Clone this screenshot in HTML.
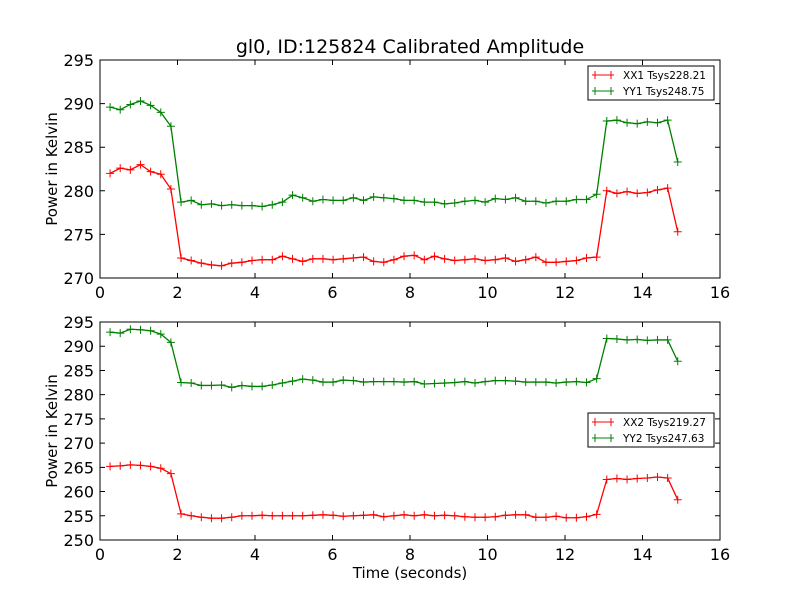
<!DOCTYPE html>
<html><head><meta charset="utf-8"><style>
html,body{margin:0;padding:0;background:#fff;}
svg{display:block;font-family:"DejaVu Sans","Liberation Sans",sans-serif;}
</style></head><body>
<svg id="chart" width="800" height="600" viewBox="0 0 800 600" xmlns="http://www.w3.org/2000/svg">
<rect width="800" height="600" fill="#fff"/>
<text x="410" y="53" font-size="19" text-anchor="middle">gl0, ID:125824 Calibrated Amplitude</text>
</svg>
<script>
const startTime = 0.26;
const timeStep = 0.2616;
const xTicks = [0,2,4,6,8,10,12,14,16];
const topYTicks = [270,275,280,285,290,295];
const botYTicks = [250,255,260,265,270,275,280,285,290,295];
const xx1 = [282.0,282.6,282.4,283.0,282.2,281.9,280.2,
272.3,272.0,271.7,271.5,271.4,271.7,271.8,272.0,272.1,272.1,
272.5,272.2,271.9,272.2,272.2,272.1,272.2,272.3,272.4,271.9,
271.8,272.1,272.5,272.6,272.1,272.5,272.2,272.0,272.1,272.2,
272.0,272.1,272.3,271.9,272.1,272.4,271.8,271.8,271.9,272.0,272.3,272.4,
280.0,279.7,279.9,279.7,279.8,280.1,280.3,275.3];
const yy1 = [289.6,289.3,289.9,290.3,289.8,289.0,287.4,
278.7,278.9,278.4,278.5,278.3,278.4,278.3,278.3,278.2,278.4,
278.7,279.5,279.2,278.8,279.0,278.9,278.9,279.2,278.9,279.3,
279.2,279.1,278.9,278.9,278.7,278.7,278.5,278.6,278.8,278.9,
278.7,279.1,279.0,279.2,278.8,278.8,278.6,278.8,278.8,279.0,279.0,279.6,
288.0,288.1,287.8,287.7,287.9,287.8,288.1,283.3];
const xx2 = [265.2,265.3,265.5,265.4,265.2,264.8,263.7,
255.4,255.0,254.7,254.5,254.5,254.7,255.0,255.0,255.1,255.0,
255.0,255.0,255.0,255.1,255.2,255.1,254.9,255.0,255.1,255.2,
254.8,255.0,255.2,255.0,255.2,255.0,255.1,255.0,254.8,254.7,
254.7,254.8,255.1,255.2,255.2,254.7,254.7,254.9,254.6,254.6,254.8,255.3,
262.5,262.7,262.5,262.7,262.8,263.0,262.8,258.3];
const yy2 = [292.9,292.7,293.5,293.4,293.2,292.5,290.8,
282.5,282.4,281.9,281.9,282.0,281.5,281.9,281.7,281.7,282.0,
282.4,282.8,283.2,283.0,282.6,282.6,283.0,282.9,282.6,282.7,
282.7,282.7,282.6,282.7,282.2,282.3,282.4,282.5,282.7,282.4,
282.7,282.9,282.9,282.8,282.6,282.6,282.6,282.4,282.6,282.7,282.5,283.3,
291.6,291.5,291.3,291.4,291.2,291.3,291.3,286.9];
const labels1 = ["XX1 Tsys228.21","YY1 Tsys248.75"];
const labels2 = ["XX2 Tsys219.27","YY2 Tsys247.63"];

const NS = "http://www.w3.org/2000/svg";
const svg = document.getElementById('chart');
function mk(tag, attrs, parent){
  const e = document.createElementNS(NS, tag);
  for (const k in attrs) e.setAttribute(k, attrs[k]);
  (parent||svg).appendChild(e);
  return e;
}
function panel(name, top, bottom, ymin, ymax, yTicks, series, colors, labels, legendY, showXLabel){
  const L=100, R=720;
  const g = mk('g', {});
  
  
  const xs = v => L + (v - xTicks[0]) / (xTicks[xTicks.length-1] - xTicks[0]) * (R - L);
  const ys = v => bottom - (v - ymin) / (ymax - ymin) * (bottom - top);
  series.forEach((data, si) => {
    const pts = data.map((v,i) => xs(startTime + i*timeStep).toFixed(2) + ',' + ys(v).toFixed(2));
    const pl = mk('polyline', {points: pts.join(' '), fill:'none', stroke:colors[si], 'stroke-width':1.3}, g);
    
    
    data.forEach((v,i) => {
      const x = xs(startTime + i*timeStep), y = ys(v);
      const m = mk('path', {d:`M${x-4},${y}H${x+4}M${x},${y-4}V${y+4}`, stroke:colors[si], 'stroke-width':1}, g);
      
      
    });
  });
  const frame = mk('rect', {x:L, y:top, width:R-L, height:bottom-top, fill:'none', stroke:'#000', 'stroke-width':1}, g);
  
  
  xTicks.forEach(t => {
    const x = xs(t);
    mk('path', {d:`M${x},${bottom}v-5M${x},${top}v5`, stroke:'#000'}, g);
    const tx = mk('text', {x:x, y:bottom+20, 'font-size':16, 'text-anchor':'middle'}, g);
    
    
    tx.textContent = t;
  });
  yTicks.forEach(t => {
    const y = ys(t);
    mk('path', {d:`M${L},${y}h5M${R},${y}h-5`, stroke:'#000'}, g);
    const ty = mk('text', {x:L-6, y:y+6, 'font-size':16, 'text-anchor':'end'}, g);
    
    
    ty.textContent = t;
  });
  const yl = mk('text', {x:0, y:0, 'font-size':15, 'text-anchor':'middle', transform:`translate(57,${(top+bottom)/2}) rotate(-90)`}, g);
  
  
  yl.textContent = 'Power in Kelvin';
  if (showXLabel){
    const xl = mk('text', {x:(L+R)/2, y:578, 'font-size':15, 'text-anchor':'middle'}, g);
    
    
    xl.textContent = 'Time (seconds)';
  }
  const lg = mk('g', {}, g);
  
  
  mk('rect', {x:588, y:legendY, width:126, height:34, fill:'#fff', stroke:'#000', 'stroke-width':1}, lg);
  labels.forEach((lab, i) => {
    const y = legendY + 9 + i*16;
    const e = mk('g', {}, lg);
    
    
    mk('path', {d:`M592,${y}H614M595,${y-4}v8M611,${y-4}v8`, stroke:colors[i], 'stroke-width':1}, e);
    const t = mk('text', {x:623, y:y+4, 'font-size':10.5}, e);
    t.textContent = lab;
  });
}
panel('top-panel', 60, 278, 270, 295, topYTicks, [xx1, yy1], ['#ff0000','#008000'], labels1, 66, false);
panel('bottom-panel', 322, 540, 250, 295, botYTicks, [xx2, yy2], ['#ff0000','#008000'], labels2, 413, true);
</script>
</body></html>
